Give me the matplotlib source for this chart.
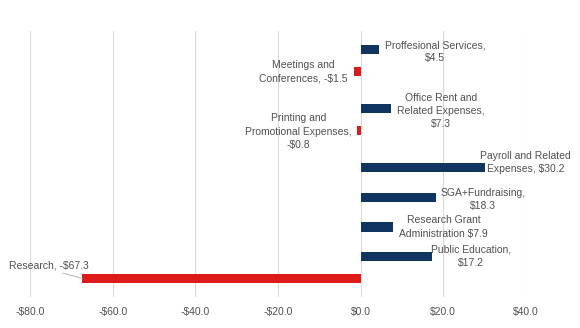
import numpy as np
from matplotlib import pyplot as plt

plt.rcParams['font.family'] = ['Liberation Sans', 'DejaVu Sans']

# data: change in $ per line item
labels = ["Proffesional Services,\n$4.5",
          "Meetings and\nConferences, -$1.5",
          "Office Rent and\nRelated Expenses,\n$7.3",
          "Printing and\nPromotional Expenses,\n-$0.8",
          "Payroll and Related\nExpenses, $30.2",
          "SGA+Fundraising,\n$18.3",
          "Research Grant\nAdministration $7.9",
          "Public Education,\n$17.2",
          "Research, -$67.3"]
values = [4.5, -1.5, 7.3, -0.8, 30.2, 18.3, 7.9, 17.2, -67.3]
ticks = [-80, -60, -40, -20, 0, 20, 40]

# label offsets from bar end, in pixels (dx, dy)
label_offsets = [(56, -2), (-51, 0), (50, -2), (-59, -1), (40, 5),
                 (47, -2), (50, 0), (39, 0), (-34, 13)]

BLUE = "#0f3560"
RED = "#dd1c1a"
GREY = "#505050"

fig = plt.figure(figsize=(5.8, 3.28), dpi=100)
ax = fig.add_axes([30 / 580, 31 / 328, 496 / 580, 266 / 328])

pos = np.arange(len(values))
offs = np.where(np.array(values) >= 0, 0.13, -0.13)
colors = [BLUE if v >= 0 else RED for v in values]
ax.barh(pos + offs, values, height=0.31, color=colors, zorder=3)

ax.set_xlim(-80, 40)
ax.set_ylim(len(values) - 0.5, -0.5)
ax.set_xticks(ticks)
ax.set_xticklabels(["-$%.1f" % -t if t < 0 else "$%.1f" % t for t in ticks])
ax.set_yticks([])
ax.grid(axis='x', color='#d9d9d9', linewidth=0.8, zorder=0)
ax.tick_params(axis='x', length=0, colors=GREY, labelsize=7.5, pad=7)
for s in ax.spines.values():
    s.set_visible(False)

for i, (lab, v) in enumerate(zip(labels, values)):
    dx, dy = label_offsets[i]
    if i == len(values) - 1:
        ax.annotate(lab, xy=(v, pos[i] + offs[i]), xytext=(dx, dy),
                    textcoords='offset pixels', ha='center', va='center',
                    fontsize=7.5, color=GREY, annotation_clip=False,
                    arrowprops=dict(arrowstyle='-', color='#a6a6a6', lw=0.6,
                                    shrinkA=0, shrinkB=0,
                                    relpos=(0.55, 0.0)))
    else:
        ax.annotate(lab, xy=(v, pos[i] + offs[i]), xytext=(dx, dy),
                    textcoords='offset pixels', ha='center', va='center',
                    fontsize=7.5, color=GREY, annotation_clip=False,
                    linespacing=1.4)

fig.savefig("out.png", dpi=100)
